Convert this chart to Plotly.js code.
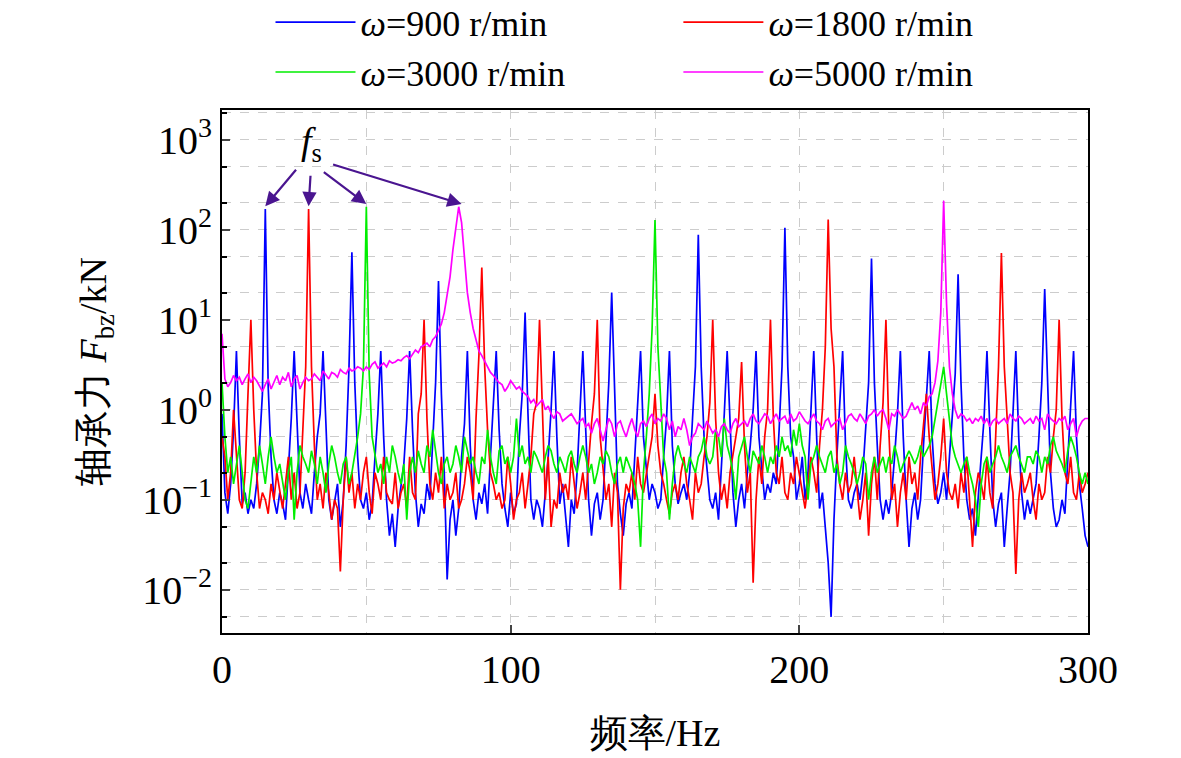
<!DOCTYPE html>
<html>
<head>
<meta charset="utf-8">
<script src="https://cdn.plot.ly/plotly-3.0.1.min.js"></script>
<style>body{margin:0;background:#fff}</style>
</head>
<body>
<div id="chart" style="width:1181px;height:758px"></div>
<script>
// 频率 0..300 Hz, 1 Hz 步长
const freq = Array.from({ length: 301 }, (_, i) => i);

const names = ['<i>ω</i>=900 r/min', '<i>ω</i>=1800 r/min', '<i>ω</i>=3000 r/min', '<i>ω</i>=5000 r/min'];
const colors = ['#0000ff', '#ff0000', '#00ee00', '#ff00ff'];
const legendOf = ['legend', 'legend2', 'legend', 'legend2'];

const f900 = [
  0.9,0.12,0.07,0.15,0.6,4.5,0.5,0.09,0.12,0.07,
  0.1,0.08,0.15,0.4,1.5,170,1.8,0.3,0.1,0.07,
  0.12,0.09,0.06,0.2,0.8,4.5,0.6,0.12,0.08,0.15,
  0.1,0.07,0.2,0.5,0.9,4.5,0.7,0.1,0.06,0.09,
  0.15,0.05,0.1,0.4,3,56,2,0.3,0.1,0.08,
  0.12,0.06,0.09,0.3,0.9,4.5,0.5,0.1,0.04,0.07,
  0.03,0.08,0.15,0.25,0.8,4.5,0.6,0.12,0.05,0.09,
  0.07,0.15,0.1,0.5,2,27,1.5,0.2,0.013,0.06,
  0.1,0.04,0.08,0.3,0.7,4.5,0.4,0.1,0.06,0.12,
  0.09,0.15,0.07,0.3,1,4.5,0.6,0.15,0.08,0.05,
  0.12,0.07,0.09,0.5,1.5,12,0.9,0.1,0.06,0.1,
  0.08,0.05,0.12,0.3,1,4.5,0.5,0.09,0.15,0.06,
  0.03,0.1,0.07,0.2,0.8,4.5,0.6,0.1,0.04,0.09,
  0.12,0.06,0.1,0.5,2,20,1.2,0.15,0.07,0.04,
  0.09,0.12,0.08,0.3,0.9,4.5,0.5,0.2,0.1,0.15,
  0.12,0.08,0.1,0.3,0.8,4.5,0.4,0.15,0.09,0.12,
  0.15,0.1,0.2,0.8,3,88,3,0.5,0.2,0.1,
  0.08,0.12,0.06,0.2,0.9,4.5,0.6,0.12,0.05,0.1,
  0.15,0.08,0.2,0.4,1,4.5,0.5,0.2,0.1,0.15,
  0.12,0.2,0.15,0.6,3,105,3,0.5,0.3,0.1,
  0.15,0.3,0.1,0.2,0.8,4.5,0.5,0.08,0.12,0.05,
  0.02,0.005,0.06,0.3,1,4.5,0.4,0.1,0.08,0.12,
  0.15,0.1,0.2,0.6,2,48,2,0.4,0.1,0.06,
  0.1,0.07,0.12,0.3,0.9,4.5,0.5,0.1,0.03,0.08,
  0.12,0.06,0.1,0.4,1.2,4.5,0.5,0.15,0.09,0.12,
  0.2,0.1,0.3,0.8,2.5,32,2,0.3,0.1,0.06,
  0.08,0.04,0.1,0.3,0.8,4.5,0.6,0.1,0.05,0.09,
  0.12,0.03,0.08,0.2,0.9,4.5,0.5,0.12,0.06,0.1,
  0.07,0.1,0.15,0.5,2,22,1.5,0.2,0.08,0.05,
  0.06,0.1,0.07,0.3,0.9,4.5,0.5,0.15,0.08,0.04,
  0.03
];

const f1800 = [
  0.5,0.3,0.1,0.2,1,0.3,0.1,0.08,0.2,1.5,
  10,1,0.2,0.08,0.12,0.1,0.07,0.15,0.1,0.2,
  0.12,0.08,0.15,0.3,0.1,0.2,0.08,0.12,0.6,3,
  170,3,0.4,0.1,0.15,0.08,0.2,0.12,0.06,0.1,
  0.08,0.016,0.1,0.3,0.12,0.2,0.08,0.15,0.1,0.2,
  0.3,0.12,0.07,0.2,0.15,0.1,0.3,0.12,0.1,0.09,
  0.2,0.08,0.12,0.15,0.08,0.3,0.12,0.1,0.9,1.5,
  10,0.8,0.15,0.1,0.2,0.12,0.3,0.08,0.15,0.1,
  0.12,0.2,0.08,0.1,0.15,0.3,0.2,0.1,0.8,4,
  38,3,0.6,0.2,0.15,0.1,0.12,0.08,0.1,0.3,
  0.15,0.06,0.1,0.12,0.2,0.08,0.15,0.3,0.9,1.2,
  10,0.9,0.1,0.3,0.05,0.1,0.08,0.2,0.12,0.15,
  0.1,0.3,0.15,0.08,0.12,0.2,0.1,0.3,0.7,1.5,
  10,0.5,0.2,0.1,0.15,0.05,0.2,0.12,0.01,0.08,
  0.15,0.12,0.2,0.1,0.3,0.15,0.12,0.2,0.3,0.5,
  1.5,0.4,0.2,0.15,0.1,0.07,0.12,0.15,0.1,0.2,
  0.3,0.15,0.1,0.06,0.2,0.12,0.15,0.3,0.5,1.2,
  10,0.8,0.2,0.1,0.15,0.08,0.2,0.3,0.5,0.8,
  3.4,0.4,0.12,0.2,0.012,0.1,0.3,0.15,0.5,1,
  10,0.8,0.2,0.15,0.3,0.12,0.1,0.2,0.15,0.3,
  0.2,0.12,0.08,0.15,0.3,0.2,0.12,0.4,1,5,
  130,8,3,0.3,0.15,0.1,0.2,0.12,0.15,0.3,
  0.12,0.06,0.1,0.2,0.04,0.15,0.3,0.1,0.4,1.2,
  10,0.6,0.1,0.15,0.05,0.12,0.2,0.1,0.3,0.15,
  0.2,0.1,0.3,0.7,1.5,0.5,0.2,0.1,0.15,0.3,
  0.8,0.2,0.12,0.1,0.15,0.08,0.2,0.12,0.3,0.1,
  0.03,0.12,0.2,0.15,0.1,0.3,0.12,0.08,0.6,3,
  55,3,0.8,0.2,0.12,0.015,0.1,0.2,0.12,0.15,
  0.2,0.1,0.06,0.15,0.1,0.12,0.3,0.2,0.5,1,
  10,0.8,0.2,0.15,0.3,0.12,0.1,0.2,0.12,0.15,
  0.2
];

const f3000 = [
  2,0.5,0.2,0.3,0.15,0.25,0.4,0.2,0.1,0.08,
  0.15,0.3,0.2,0.4,0.25,0.15,0.3,0.5,0.3,0.2,
  0.25,0.15,0.1,0.2,0.3,0.06,0.2,0.4,0.3,0.25,
  0.2,0.35,0.25,0.15,0.3,0.2,0.12,0.25,0.4,0.3,
  0.2,0.15,0.25,0.3,0.15,0.2,0.3,0.5,0.9,3,
  180,2.5,0.5,0.3,0.2,0.25,0.15,0.3,0.2,0.4,
  0.3,0.2,0.15,0.25,0.06,0.2,0.3,0.2,0.35,0.25,
  0.2,0.4,0.3,0.6,0.35,0.2,0.15,0.25,0.3,0.2,
  0.25,0.4,0.3,0.2,0.5,0.35,0.25,0.3,0.2,0.15,
  0.3,0.25,0.6,0.3,0.2,0.15,0.35,0.4,0.25,0.3,
  0.2,0.3,0.8,0.3,0.4,0.25,0.3,0.2,0.35,0.3,
  0.25,0.2,0.3,0.4,0.35,0.25,0.2,0.3,0.25,0.2,
  0.3,0.35,0.25,0.2,0.3,0.4,0.3,0.2,0.25,0.15,
  0.2,0.3,0.25,0.35,0.3,0.2,0.15,0.25,0.3,0.2,
  0.3,0.25,0.2,0.15,0.1,0.03,0.2,0.5,1.5,8,
  128,5,1,0.3,0.2,0.06,0.15,0.3,0.4,0.3,
  0.25,0.2,0.3,0.25,0.2,0.3,0.35,0.5,0.3,0.25,
  0.3,0.6,0.5,0.3,0.8,0.4,0.3,0.2,0.1,0.3,
  0.4,0.5,0.3,0.2,0.35,0.3,0.25,0.4,0.3,0.2,
  0.3,0.25,0.4,0.3,0.5,0.35,0.4,0.3,0.6,0.4,
  0.7,0.4,0.3,0.1,0.25,0.3,0.4,0.3,0.25,0.2,
  0.3,0.35,0.2,0.25,0.15,0.2,0.4,0.3,0.25,0.2,
  0.15,0.2,0.3,0.25,0.1,0.2,0.3,0.2,0.25,0.3,
  0.2,0.3,0.25,0.4,0.3,0.2,0.25,0.3,0.35,0.3,
  0.25,0.3,0.4,0.3,0.35,0.4,0.5,0.8,1.2,2,
  3,1.5,0.8,0.4,0.3,0.25,0.2,0.25,0.3,0.2,
  0.15,0.1,0.05,0.15,0.25,0.3,0.2,0.25,0.3,0.4,
  0.3,0.25,0.2,0.3,0.35,0.4,0.3,0.25,0.2,0.3,
  0.3,0.25,0.35,0.3,0.2,0.3,0.25,0.4,0.5,0.35,
  0.3,0.25,0.2,0.35,0.5,0.4,0.3,0.2,0.15,0.2,
  0.15
];

const f5000 = [
  7,2.2,1.8,2,2.4,2.1,2.3,1.9,2.2,2.5,
  2,2.3,2.1,1.8,1.6,1.9,2.2,1.7,2,2.4,
  1.9,2.3,2.1,2.6,1.8,2.2,2.4,1.7,2,2.3,
  2.1,2.2,2.5,2.3,2.1,2.7,2.4,2.2,2.6,2.5,
  2.3,2.8,2.6,2.5,2.9,2.7,2.8,3,2.9,2.7,
  3,2.8,3.2,3.4,2.9,3.1,3.3,3,3.5,3.3,
  3.4,3.6,3.5,3.8,4,3.7,4.2,4.6,4.3,5,
  5.2,5.5,5,6,6.5,7.5,9,12,18,30,
  60,110,180,120,45,20,12,8,6,4.5,
  4,3.5,3,2.6,2.4,2.2,2,1.9,1.6,1.8,
  2.1,1.9,1.7,1.8,1.6,1.5,1.4,1.2,1.3,1.1,
  1.2,1.3,1,1.1,0.9,0.8,0.95,0.9,0.75,0.8,
  0.85,0.9,0.8,0.7,0.75,0.8,0.65,0.7,0.55,0.7,
  0.8,0.6,0.45,0.6,0.8,0.7,0.5,0.7,0.75,0.6,
  0.5,0.65,0.8,0.6,0.5,0.7,0.75,0.65,0.8,0.9,
  0.7,0.8,0.75,0.9,0.8,0.6,0.75,0.5,0.65,0.6,
  0.8,0.6,0.4,0.5,0.55,0.7,0.65,0.6,0.75,0.65,
  0.55,0.6,0.5,0.65,0.7,0.6,0.55,0.7,0.8,0.65,
  0.7,0.75,0.65,0.8,0.9,0.75,0.7,0.8,0.9,0.85,
  0.7,0.8,0.9,0.75,0.8,0.85,0.7,0.9,0.75,0.8,
  0.95,0.85,0.75,0.7,0.8,0.9,0.75,0.7,0.6,0.75,
  0.8,0.65,0.7,0.75,0.8,0.6,0.7,0.85,0.9,0.8,
  0.75,0.9,0.8,0.7,0.85,0.9,1,0.85,0.95,1,
  0.8,0.6,0.9,0.85,1,0.9,0.8,0.85,1,1.2,
  1,1.1,0.9,1.2,1.1,1.4,1.5,2,3.5,12,
  210,15,3,1.5,1,0.8,0.9,0.85,0.75,0.8,
  0.7,0.8,0.75,0.85,0.7,0.8,0.65,0.75,0.8,0.7,
  0.75,0.8,0.7,0.9,0.8,0.75,0.85,0.8,0.7,0.75,
  0.8,0.7,0.85,0.75,0.8,0.6,0.9,0.8,0.75,0.7,
  0.8,0.75,0.85,0.6,0.7,0.8,0.5,0.65,0.75,0.8,
  0.8
];

// f_s 箭头指向的峰 (Hz, kN)
const fsPeaks = [[15, 170], [30, 170], [50, 180], [83, 180]];
const fsTails = [[32, -38], [2, -32], [-44, -33], [-130, -40]];

const series = [f900, f1800, f3000, f5000];
const traces = series.map((ys, i) => ({
  x: freq, y: ys, type: 'scatter', mode: 'lines', name: names[i],
  legend: legendOf[i],
  line: { color: colors[i], width: 1.7 }
}));

const arrowColor = '#4a1590';
const annotations = fsPeaks.map((p, i) => ({
  x: p[0], y: Math.log10(p[1]) + 0.03, xref: 'x', yref: 'y',
  ax: fsTails[i][0], ay: fsTails[i][1], text: '', showarrow: true,
  arrowhead: 2, arrowsize: 1.3, arrowwidth: 2.2, arrowcolor: arrowColor
}));
annotations.push({
  x: 31, y: 2.95, xref: 'x', yref: 'y', showarrow: false,
  text: '<i>f</i><sub>s</sub>', font: { size: 38, color: '#000' }
});

const gridStyle = { gridcolor: '#cccccc', griddash: 'dash', gridwidth: 1 };
const legendBase = {
  orientation: 'v', xanchor: 'left', y: 1.225, yanchor: 'top',
  itemwidth: 80, font: { size: 36 }, bgcolor: 'rgba(0,0,0,0)', tracegroupgap: 0
};

const layout = {
  width: 1181, height: 758,
  paper_bgcolor: '#fff', plot_bgcolor: '#fff',
  font: { family: 'Liberation Serif, Times New Roman, serif', size: 40, color: '#000' },
  margin: { l: 222, r: 93, t: 110, b: 125, autoexpand: false },
  showlegend: true,
  legend: { ...legendBase, x: 0.056 },
  legend2: { ...legendBase, x: 0.527 },
  xaxis: {
    range: [0, 300], tickvals: [0, 100, 200, 300], ticks: 'inside', ticklen: 8, tickwidth: 2,
    showline: true, linecolor: '#000', linewidth: 2, mirror: true, zeroline: false,
    showgrid: true, ...gridStyle,
    minor: { dtick: 50, showgrid: true, ...gridStyle, ticks: '' },
    title: { text: '频率/Hz', font: { size: 38 }, standoff: 28 }
  },
  yaxis: {
    type: 'log', range: [-2.48, 3.33],
    tickvals: [0.01, 0.1, 1, 10, 100, 1000],
    ticktext: ['10<sup>−2</sup>', '10<sup>−1</sup>', '10<sup>0</sup>', '10<sup>1</sup>', '10<sup>2</sup>', '10<sup>3</sup>'],
    ticks: 'inside', ticklen: 8, tickwidth: 2,
    showline: true, linecolor: '#000', linewidth: 2, mirror: true, zeroline: false,
    showgrid: true, ...gridStyle,
    minor: { ticks: 'inside', ticklen: 5, tickcolor: '#000', showgrid: true, ...gridStyle },
    title: { text: '轴承力 <i>F</i><sub>bz</sub>/kN', font: { size: 38 }, standoff: 24 }
  },
  annotations: annotations
};

Plotly.newPlot('chart', traces, layout, { staticPlot: true });
</script>
</body>
</html>
